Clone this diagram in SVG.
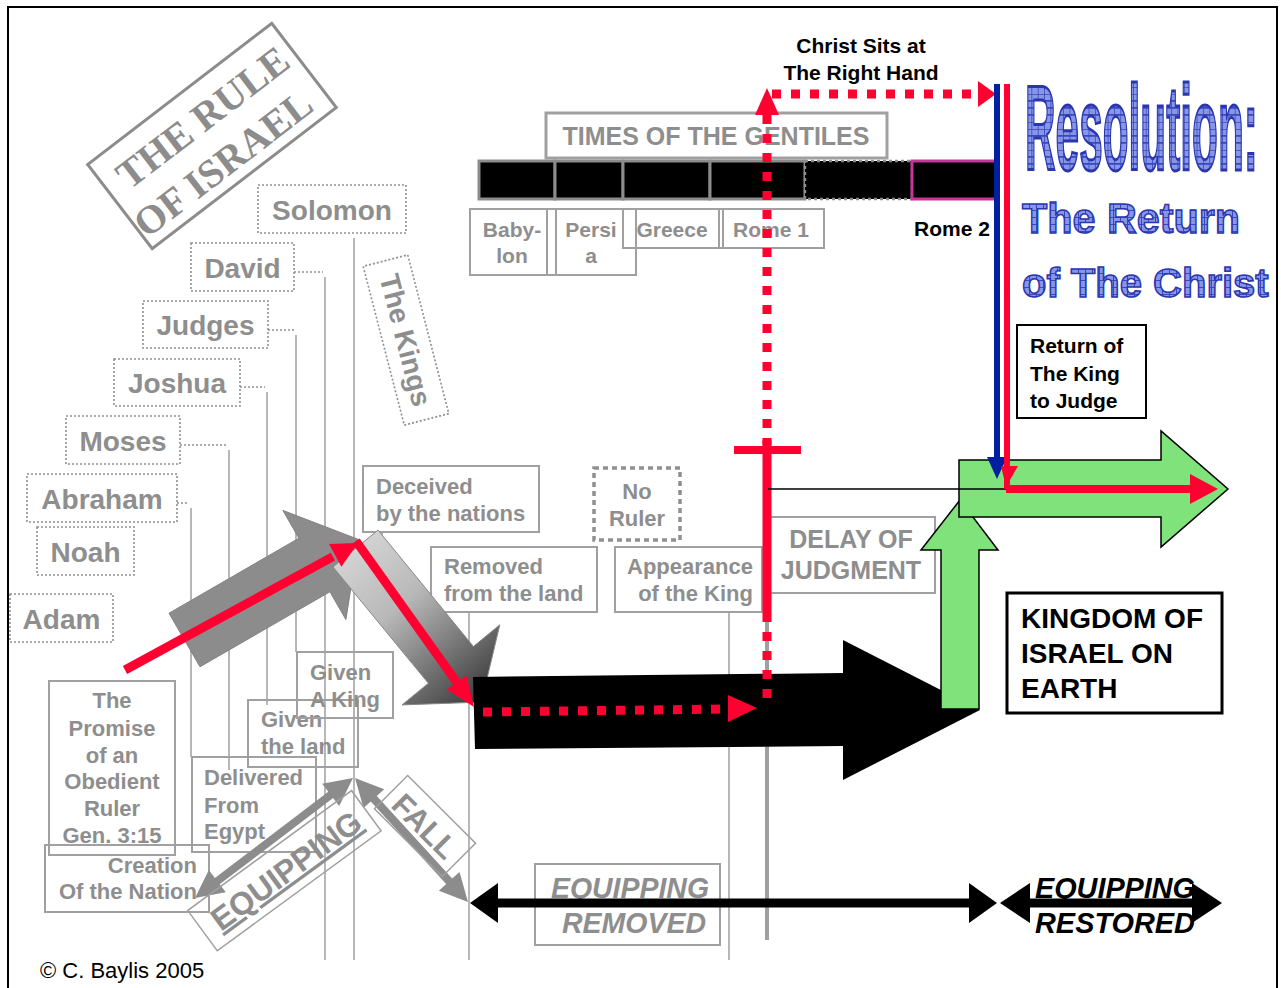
<svg xmlns="http://www.w3.org/2000/svg" width="1281" height="988" viewBox="0 0 1281 988">
<style>
.gt{font-family:"Liberation Sans",Arial,sans-serif;font-weight:bold;fill:#8e8e8e}
.bt{font-family:"Liberation Sans",Arial,sans-serif;font-weight:bold;fill:#000}
.gb{fill:none;stroke:#a0a0a0;stroke-width:2}
.gd{fill:none;stroke:#909090;stroke-width:1.6;stroke-dasharray:2 2}
.vl{stroke:#a0a0a0;stroke-width:1.5;fill:none}
.seg{fill:#000;stroke:#8c8c8c;stroke-width:3}
.rd{stroke:#ff0030;stroke-width:9;fill:none;stroke-dasharray:9 10}
.rs{stroke:#ff0030;fill:none}
.rf{fill:#ff0030}
.res{font-family:"Liberation Sans",Arial,sans-serif;font-weight:bold;fill:url(#grid);stroke:#2a36b0;stroke-width:1.5}
</style>
<defs>
<pattern id="grid" width="7" height="7" patternUnits="userSpaceOnUse"><rect width="7" height="7" fill="#8796e6"/><path d="M0,0.5H7M0.5,0V7" stroke="#3a48c0" stroke-width="1"/></pattern>
<pattern id="grid2" width="18" height="7" patternUnits="userSpaceOnUse"><rect width="18" height="7" fill="#8796e6"/><path d="M0,0.5H18M1,0V7" stroke="#3a48c0" stroke-width="2.4"/></pattern>
<linearGradient id="gg" gradientUnits="userSpaceOnUse" x1="345" y1="545" x2="480" y2="700"><stop offset="0" stop-color="#d6d6d6"/><stop offset="0.4" stop-color="#b8b8b8"/><stop offset="1" stop-color="#3c3c3c"/></linearGradient>
</defs>
<rect width="1281" height="988" fill="#fff"/>

<g id="title">
<g transform="translate(212,136) rotate(-37.5)">
<rect x="-116" y="-53" width="232" height="106" fill="none" stroke="#8c8c8c" stroke-width="3"/>
<text x="4" y="-7" text-anchor="middle" font-family="Liberation Serif,serif" font-weight="bold" font-size="40" fill="#8c8c8c">THE RULE</text>
<text x="-8" y="42" text-anchor="middle" font-family="Liberation Serif,serif" font-weight="bold" font-size="40" fill="#8c8c8c">OF ISRAEL</text>
</g>
</g>

<g id="connectors">
<path class="gd" d="M294,272H323M268,330H294M240,387H265M180,445H227M177,503H189"/>
<path class="vl" d="M325,277V960M296,335V652M267,392V705M229,450V770M191,508V757M354,238V960M469,612V960M729,612V960M382,532V546"/>
<line x1="767" y1="613" x2="767" y2="940" stroke="#a0a0a0" stroke-width="4"/>
</g>

<g id="names">
<rect class="gd" x="258" y="185" width="148" height="48"/><text class="gt" x="332" y="220" font-size="28" text-anchor="middle">Solomon</text>
<rect class="gd" x="191" y="243" width="103" height="48"/><text class="gt" x="242.5" y="278" font-size="28" text-anchor="middle">David</text>
<rect class="gd" x="143" y="301" width="125" height="47"/><text class="gt" x="205.5" y="335" font-size="28" text-anchor="middle">Judges</text>
<rect class="gd" x="114" y="359" width="126" height="47"/><text class="gt" x="177" y="393" font-size="28" text-anchor="middle">Joshua</text>
<rect class="gd" x="66" y="416" width="114" height="48"/><text class="gt" x="123" y="451" font-size="28" text-anchor="middle">Moses</text>
<rect class="gd" x="27" y="474" width="150" height="48"/><text class="gt" x="102" y="509" font-size="28" text-anchor="middle">Abraham</text>
<rect class="gd" x="37" y="527" width="97" height="48"/><text class="gt" x="85.5" y="562" font-size="28" text-anchor="middle">Noah</text>
<rect class="gd" x="10" y="594" width="103" height="48"/><text class="gt" x="61.5" y="629" font-size="28" text-anchor="middle">Adam</text>
<g transform="translate(406,340) rotate(75.5)"><rect class="gd" x="-82" y="-23" width="164" height="46"/><text class="gt" x="0" y="10" font-size="28" text-anchor="middle">The Kings</text></g>
</g>

<g id="timeline">
<rect class="seg" x="479" y="161" width="76" height="38"/>
<rect class="seg" x="555" y="161" width="68" height="38"/>
<rect class="seg" x="623" y="161" width="87" height="38"/>
<rect class="seg" x="710" y="161" width="95" height="38"/>
<rect x="805" y="161" width="107" height="38" fill="#000" stroke="#8c8c8c" stroke-width="2.5" stroke-dasharray="3 3"/>
<rect x="912" y="161" width="84" height="38" fill="#000" stroke="#c8339a" stroke-width="3"/>
<rect x="546" y="113" width="341" height="45" fill="#fff" stroke="#a0a0a0" stroke-width="3"/>
<text class="gt" x="716" y="145" font-size="25" text-anchor="middle">TIMES OF THE GENTILES</text>
<rect class="gb" x="470" y="209" width="86" height="66"/>
<rect class="gb" x="547" y="209" width="89" height="66"/>
<rect class="gb" x="623" y="209" width="100" height="39"/>
<rect class="gb" x="719" y="209" width="105" height="39"/>
<text class="gt" x="512" y="237" font-size="21" text-anchor="middle">Baby-</text>
<text class="gt" x="512" y="263" font-size="21" text-anchor="middle">lon</text>
<text class="gt" x="591" y="237" font-size="21" text-anchor="middle">Persi</text>
<text class="gt" x="591" y="263" font-size="21" text-anchor="middle">a</text>
<text class="gt" x="672" y="237" font-size="21" text-anchor="middle">Greece</text>
<text class="gt" x="771" y="237" font-size="21" text-anchor="middle">Rome 1</text>
<text class="bt" x="914" y="236" font-size="21">Rome 2</text>
<text class="bt" x="861" y="53" font-size="21" text-anchor="middle">Christ Sits at</text>
<text class="bt" x="861" y="80" font-size="21" text-anchor="middle">The Right Hand</text>
</g>

<g id="resolution">
<text class="res" transform="translate(1025,170) scale(0.353,1)" x="0" y="0" font-size="120" textLength="660" lengthAdjust="spacingAndGlyphs" style="fill:url(#grid2);stroke-width:3">Resolution:</text>
<text class="res" x="1022" y="233" font-size="43" textLength="218" lengthAdjust="spacingAndGlyphs">The Return</text>
<text class="res" x="1022" y="297" font-size="40">of The Christ</text>
</g>

<g id="boxes">
<rect class="gb" x="49" y="681" width="126" height="174"/>
<text class="gt" font-size="22" text-anchor="middle"><tspan x="112" y="708">The</tspan><tspan x="112" y="736">Promise</tspan><tspan x="112" y="763">of an</tspan><tspan x="112" y="789">Obedient</tspan><tspan x="112" y="816">Ruler</tspan><tspan x="112" y="843">Gen. 3:15</tspan></text>
<rect class="gb" x="45" y="845" width="164" height="67"/>
<text class="gt" font-size="22" text-anchor="end"><tspan x="197" y="873">Creation</tspan><tspan x="197" y="899">Of the Nation</tspan></text>
<rect class="gb" x="192" y="757" width="124" height="95"/>
<text class="gt" font-size="22"><tspan x="204" y="785">Delivered</tspan><tspan x="204" y="813">From</tspan><tspan x="204" y="839">Egypt</tspan></text>
<rect class="gb" x="248" y="700" width="110" height="67"/>
<text class="gt" font-size="22"><tspan x="261" y="727">Given</tspan><tspan x="261" y="754">the land</tspan></text>
<rect class="gb" x="297" y="652" width="96" height="66"/>
<text class="gt" font-size="22"><tspan x="310" y="680">Given</tspan><tspan x="310" y="707">A King</tspan></text>
<rect class="gb" x="363" y="466" width="176" height="66"/>
<text class="gt" font-size="22"><tspan x="376" y="494">Deceived</tspan><tspan x="376" y="521">by the nations</tspan></text>
<rect class="gb" x="431" y="547" width="166" height="65"/>
<text class="gt" font-size="22"><tspan x="444" y="574">Removed</tspan><tspan x="444" y="601">from the land</tspan></text>
<rect x="594" y="468" width="86" height="72" fill="none" stroke="#909090" stroke-width="3.5" stroke-dasharray="5 4"/>
<text class="gt" font-size="22" text-anchor="middle"><tspan x="637" y="499">No</tspan><tspan x="637" y="526">Ruler</tspan></text>
<rect class="gb" x="615" y="547" width="147" height="65"/>
<text class="gt" font-size="22" text-anchor="end"><tspan x="753" y="574">Appearance</tspan><tspan x="753" y="601">of the King</tspan></text>
<rect class="gb" x="770" y="517" width="165" height="76"/>
<text class="gt" font-size="25" text-anchor="middle"><tspan x="851" y="548">DELAY OF</tspan><tspan x="851" y="579">JUDGMENT</tspan></text>
<rect class="gb" x="535" y="864" width="185" height="81"/>
<text class="gt" x="630" y="898" font-size="30" font-style="italic" text-anchor="middle" textLength="158" lengthAdjust="spacingAndGlyphs">EQUIPPING</text>
<text class="gt" x="634" y="933" font-size="30" font-style="italic" text-anchor="middle" textLength="144" lengthAdjust="spacingAndGlyphs">REMOVED</text>
</g>

<g id="gray-arrows">
<polygon points="169,613.2 298.9,538.2 282.9,510.4 358.6,539.5 345.9,619.6 329.9,591.8 200,666.8" fill="#8c8c8c" stroke="#828282" stroke-width="1"/>
<polygon points="378,530.1 473.4,646.5 499.8,624.8 481.4,702.1 402,704.9 428.4,683.3 333,566.9" fill="url(#gg)" stroke="#888" stroke-width="1"/>
<polygon points="195,898 208.8,870 214.9,877.9 328.3,791.7 322.2,783.8 353,778 339.2,806 333.1,798.1 219.7,884.3 225.8,892.2" fill="#8c8c8c"/>
<polygon points="355,778 384.2,789.3 376.8,796 452.2,878.6 459.5,871.9 468,902 438.9,890.7 446.2,884 370.8,801.4 363.5,808.1" fill="#8c8c8c"/>
<g transform="translate(284,871) rotate(-36.2)"><rect x="-101" y="-25" width="203" height="50" fill="none" stroke="#a0a0a0" stroke-width="1.5"/><text class="gt" x="2" y="12" font-size="32" text-anchor="middle" text-decoration="underline">EQUIPPING</text></g>
<g transform="translate(425,826) rotate(45)"><rect x="-48" y="-23.5" width="96" height="47" fill="none" stroke="#a0a0a0" stroke-width="1.5"/><text class="gt" x="0" y="11" font-size="31" text-anchor="middle">FALL</text></g>
</g>

<g id="black-arrows">
<polygon points="473,677 843,673 843,640 980,710 843,780 843,746 475,749" fill="#000"/>
<path d="M470,903 L498,883 L498,898.5 L969,898.5 L969,883 L997,903 L969,923 L969,907.5 L498,907.5 L498,923 Z" fill="#000"/>
<path d="M1000,903 L1030,883 L1030,898.5 L1192,898.5 L1192,883 L1222,903 L1192,923 L1192,907.5 L1030,907.5 L1030,923 Z" fill="#000"/>
<text class="bt" x="1035" y="898" font-size="30" font-style="italic" textLength="160" lengthAdjust="spacingAndGlyphs">EQUIPPING</text>
<text class="bt" x="1035" y="933" font-size="30" font-style="italic" textLength="160" lengthAdjust="spacingAndGlyphs">RESTORED</text>
</g>

<g id="red-lines">
<line class="rs" x1="125" y1="670" x2="333" y2="556.6" stroke-width="9"/>
<polygon class="rf" points="341.4,566.8 358,543 329,544"/>
<line class="rs" x1="356" y1="541" x2="458" y2="684" stroke-width="9"/>
<polygon class="rf" points="446.9,689.4 474,707 466.5,675.6"/>
<line class="rd" x1="483" y1="712" x2="728" y2="709"/>
<polygon class="rf" points="728,695 757,708 728,722"/>
<line class="rd" x1="767" y1="115" x2="767" y2="445"/>
<line class="rs" x1="767" y1="440" x2="767" y2="613" stroke-width="9"/>
<line class="rd" x1="767" y1="613" x2="767" y2="707"/>
<line class="rs" x1="734" y1="450" x2="801" y2="450" stroke-width="8"/>
<polygon class="rf" points="767,88 779,115 755,115"/>
<line class="rd" x1="772" y1="94" x2="978" y2="94"/>
<polygon class="rf" points="978,81 996,94 978,107"/>
</g>

<g id="green-arrows">
<path d="M941,709 V550 H921 L960,500 L998,550 H979 V709 Z" fill="#80e27a" stroke="#000" stroke-width="1.5"/>
<path d="M959,460 H1161 V431 L1228,489 L1161,547 V517 H959 Z" fill="#80e27a" stroke="#000" stroke-width="1.5"/>
<line x1="768" y1="489" x2="1008" y2="489" stroke="#000" stroke-width="1.5"/>
</g>

<g id="return-lines">
<line x1="997" y1="84" x2="997" y2="460" stroke="#0020a0" stroke-width="6"/>
<polygon points="987,457 1007,457 997,479" fill="#0020a0"/>
<line x1="1007" y1="84" x2="1007" y2="489" stroke="#ff0030" stroke-width="6"/>
<polygon class="rf" points="1001,466 1018,466 1006,487"/>
<line class="rs" x1="1006" y1="489" x2="1192" y2="489" stroke-width="8"/>
<polygon class="rf" points="1190,474 1218,489 1190,504"/>
</g>

<g id="right-boxes">
<rect x="1017" y="325" width="129" height="93" fill="#fff" stroke="#000" stroke-width="2"/>
<text class="bt" font-size="21"><tspan x="1030" y="353">Return of</tspan><tspan x="1030" y="381">The King</tspan><tspan x="1030" y="408">to Judge</tspan></text>
<rect x="1007" y="593" width="215" height="120" fill="#fff" stroke="#000" stroke-width="3"/>
<text class="bt" font-size="28"><tspan x="1021" y="628">KINGDOM OF</tspan><tspan x="1021" y="663">ISRAEL ON</tspan><tspan x="1021" y="698">EARTH</tspan></text>
</g>

<text x="40" y="978" font-family="Liberation Sans,Arial,sans-serif" font-size="22" fill="#000">© C. Baylis 2005</text>
<path d="M8,988V7H1277V988" fill="none" stroke="#000" stroke-width="2"/>
</svg>
